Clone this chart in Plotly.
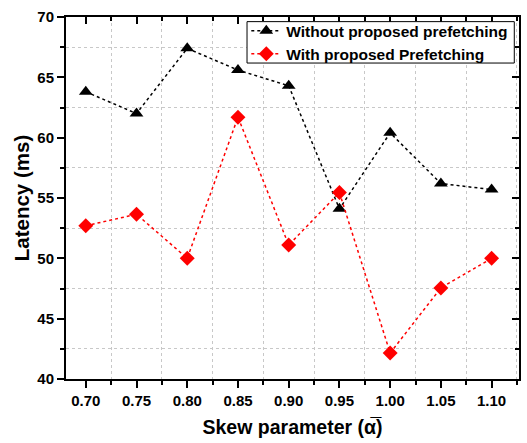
import plotly.graph_objects as go

skew = [0.70, 0.75, 0.80, 0.85, 0.90, 0.95, 1.00, 1.05, 1.10]
without_pf = [63.8, 62.0, 67.4, 65.6, 64.3, 54.1, 60.4, 56.2, 55.7]
with_pf = [52.7, 53.65, 50.0, 61.7, 51.1, 55.45, 42.15, 47.55, 50.0]
x_ticks = [0.70, 0.75, 0.80, 0.85, 0.90, 0.95, 1.00, 1.05, 1.10]
x_tick_labels = ["0.70", "0.75", "0.80", "0.85", "0.90", "0.95", "1.00", "1.05", "1.10"]
y_ticks = [40, 45, 50, 55, 60, 65, 70]

FONT = "Liberation Sans, Arial, sans-serif"
XR = [0.6805, 1.127]
YR = [40, 70]

fig = go.Figure()
fig.add_trace(go.Scatter(
    x=skew, y=without_pf, name="Without proposed prefetching",
    mode="lines+markers",
    line=dict(color="black", width=1.5, dash="3px,3px"),
    marker=dict(symbol="triangle-up", size=12, color="black"),
))
fig.add_trace(go.Scatter(
    x=skew, y=with_pf, name="With proposed Prefetching",
    mode="lines+markers",
    line=dict(color="#ff0000", width=1.5, dash="3px,3px"),
    marker=dict(symbol="diamond", size=11.5, color="#ff0000"),
))
# empty trace to activate the mirror axes (top/right)
fig.add_trace(go.Scatter(x=[], y=[], xaxis="x2", yaxis="y2", showlegend=False, hoverinfo="skip"))

grid = dict(showgrid=True, gridcolor="#c8c8c8", griddash="dot", gridwidth=1)

fig.update_layout(
    width=527, height=443,
    margin=dict(l=66, r=8, t=16, b=60),
    paper_bgcolor="white", plot_bgcolor="white",
    font=dict(family=FONT, color="black", size=15),
    showlegend=True,
    legend=dict(
        x=0.398, y=1.008, xanchor="left", yanchor="top",
        bgcolor="rgba(0,0,0,0)", borderwidth=0,
        font=dict(family=FONT, size=15.5, color="black", weight="bold"),
        tracegroupgap=0, itemwidth=30,
    ),
    shapes=[dict(
        type="rect", xref="paper", yref="paper",
        x0=0.3996, x1=0.9896, y0=0.8728, y1=0.9872,
        line=dict(color="black", width=1), fillcolor="white", layer="above",
    )],
    xaxis=dict(
        range=XR, tickvals=x_ticks, ticktext=x_tick_labels,
        showline=True, linecolor="black", linewidth=2,
        ticks="outside", ticklen=7, tickwidth=1.5, tickcolor="black",
        showgrid=False, zeroline=False,
        tickfont=dict(family=FONT, size=15, weight="bold"),
        minor=dict(dtick=0.05, tick0=0.725, ticks="outside", ticklen=4, tickwidth=1.5,
                   tickcolor="black", **grid),
        title=dict(text="Skew parameter (α̅)", standoff=12,
                   font=dict(family=FONT, size=19.5, weight="bold")),
    ),
    yaxis=dict(
        range=YR, tickvals=y_ticks,
        showline=True, linecolor="black", linewidth=2,
        ticks="outside", ticklen=7, tickwidth=1.5, tickcolor="black",
        showgrid=False, zeroline=False,
        tickfont=dict(family=FONT, size=15, weight="bold"),
        minor=dict(dtick=5, tick0=42.5, ticks="outside", ticklen=4, tickwidth=1.5,
                   tickcolor="black", **grid),
        title=dict(text="Latency (ms)", standoff=2,
                   font=dict(family=FONT, size=20.5, weight="bold")),
    ),
    xaxis2=dict(
        range=XR, overlaying="x", side="top", anchor="y2",
        tickvals=x_ticks, showticklabels=False,
        showline=True, linecolor="black", linewidth=2,
        ticks="inside", ticklen=7, tickwidth=1.5, tickcolor="black",
        showgrid=False, zeroline=False,
        minor=dict(dtick=0.05, tick0=0.725, ticks="inside", ticklen=4, tickwidth=1.5,
                   tickcolor="black", showgrid=False),
    ),
    yaxis2=dict(
        range=YR, overlaying="y", side="right", anchor="x2",
        tickvals=y_ticks, showticklabels=False,
        showline=True, linecolor="black", linewidth=2,
        ticks="inside", ticklen=7, tickwidth=1.5, tickcolor="black",
        showgrid=False, zeroline=False,
        minor=dict(dtick=5, tick0=42.5, ticks="inside", ticklen=4, tickwidth=1.5,
                   tickcolor="black", showgrid=False),
    ),
)

fig.write_html("out.html")
